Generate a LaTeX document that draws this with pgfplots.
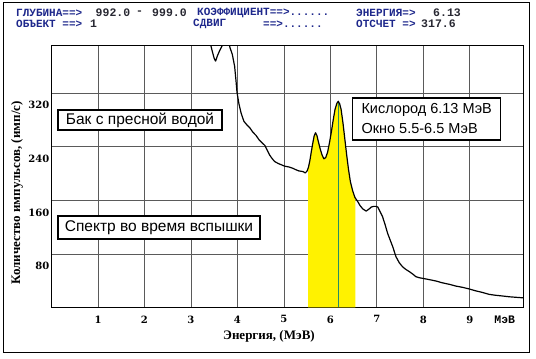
\documentclass[border=0pt]{standalone}
\usepackage{fontspec}
\setmainfont{Liberation Serif}
\setsansfont{Liberation Sans}
\setmonofont{Liberation Mono}
\newfontfamily\tickfont{DejaVu Serif}
\usepackage{pgfplots}
\pgfplotsset{compat=1.18}
\definecolor{hdrblue}{RGB}{30,40,140}
\definecolor{hdrnum}{RGB}{40,40,50}
\definecolor{gridgray}{RGB}{90,90,90}
\definecolor{peakgreen}{RGB}{40,140,100}
\begin{document}
\begin{tikzpicture}[x=1pt,y=1pt]
\fill[white] (0,0) rectangle (536,359);
\draw[black, line width=1pt] (3,6.7) rectangle (529.5,356);
% header
\begin{scope}[every node/.style={anchor=west, inner sep=0pt, font=\ttfamily\bfseries\fontsize{11}{12}\selectfont}]
\node[text=hdrblue] at (16,346.5) {ГЛУБИНА==>};
\node[text=hdrnum, font=\ttfamily\bfseries\fontsize{11.5}{12}\selectfont] at (95.5,346.5) {992.0};
\node[text=hdrnum, font=\ttfamily\bfseries\fontsize{11.5}{12}\selectfont] at (136,346.5) {-};
\node[text=hdrnum, font=\ttfamily\bfseries\fontsize{11.5}{12}\selectfont] at (152,346.5) {999.0};
\node[text=hdrblue] at (197,346.5) {КОЭФФИЦИЕНТ==>......};
\node[text=hdrblue] at (356,346.5) {ЭНЕРГИЯ=>};
\node[text=hdrnum, font=\ttfamily\bfseries\fontsize{11.5}{12}\selectfont] at (433,346.5) {6.13};
\node[text=hdrblue] at (16,335) {ОБЪЕКТ ==>};
\node[text=hdrnum, font=\ttfamily\bfseries\fontsize{11.5}{12}\selectfont] at (90,335) {1};
\node[text=hdrblue] at (193,335) {СДВИГ};
\node[text=hdrblue] at (263,335) {==>......};
\node[text=hdrblue] at (356,335) {ОТСЧЕТ =>};
\node[text=hdrnum, font=\ttfamily\bfseries\fontsize{11.5}{12}\selectfont] at (421,335) {317.6};
\end{scope}
\begin{axis}[
  at={(51.5pt,51.5pt)}, anchor=south west,
  scale only axis, width=471.8pt, height=261.8pt,
  xmin=0, xmax=10.15, ymin=0, ymax=391,
  xtick={1,2,3,4,5,6,7,8,9}, ytick={80,160,240,320},
  grid=major, major grid style={gridgray, line width=0.8pt},
  major tick length=0pt,
  axis line style={line width=1.6pt},
  tick label style={font=\tickfont\bfseries\fontsize{10}{12}\selectfont},
  /pgf/number format/assume math mode=true,
  xticklabel style={inner sep=0pt, yshift=-8pt},
  yticklabel style={inner sep=0pt, xshift=-2pt, yshift=-12pt},
  extra x ticks={9.75}, extra x tick labels={МэВ},
  extra x tick style={grid=none, xticklabel style={font=\ttfamily\bfseries\fontsize{11.5}{12}\selectfont}},
  clip=true,
]
\addplot[fill=yellow, draw=none] coordinates {
(5.52,0) (5.52,207) (5.53,210) (5.56,220) (5.59,233) (5.62,245) (5.65,256) (5.68,261)
(5.71,257) (5.74,248) (5.78,237) (5.82,228) (5.86,222) (5.90,224) (5.94,232) (5.98,246)
(6.02,262) (6.06,280) (6.10,296) (6.14,305) (6.17,308) (6.20,304) (6.23,296) (6.27,276)
(6.31,252) (6.35,228) (6.39,206) (6.43,188) (6.48,174) (6.53,164) (6.54,162) (6.54,0)} \closedcycle;
\addplot[peakgreen, line width=1pt] coordinates {(6.17,0) (6.17,307)};
\addplot[black, line width=1.2pt, line join=round] coordinates {
(3.38,405) (3.45,385) (3.50,372) (3.53,368) (3.57,376) (3.62,384) (3.68,392) (3.72,400)
};
\addplot[black, line width=1.2pt, line join=round] coordinates {
(3.80,400) (3.84,388) (3.89,378) (3.94,360) (3.97,338) (3.99,322) (4.03,305) (4.08,290)
(4.14,278) (4.20,273) (4.27,268) (4.33,262) (4.40,257) (4.47,250) (4.53,246) (4.59,242)
(4.64,235) (4.69,228) (4.74,223) (4.80,218) (4.88,215) (4.95,213) (5.02,211) (5.10,210)
(5.19,208) (5.25,206) (5.32,204) (5.41,203) (5.46,201) (5.50,204) (5.53,210) (5.56,220)
(5.59,233) (5.62,245) (5.65,256) (5.68,261) (5.71,257) (5.74,248) (5.78,237) (5.82,228)
(5.86,222) (5.90,224) (5.94,232) (5.98,246) (6.02,262) (6.06,280) (6.10,296) (6.14,305)
(6.17,308) (6.20,304) (6.23,296) (6.27,276) (6.31,252) (6.35,228) (6.39,206) (6.43,188)
(6.48,174) (6.53,164) (6.59,158) (6.64,152) (6.70,147) (6.77,144) (6.83,147) (6.88,150)
(6.93,151) (6.98,151) (7.02,150) (7.07,143) (7.12,136) (7.18,123) (7.23,111) (7.29,100)
(7.34,91) (7.41,76) (7.48,67) (7.55,61) (7.62,57) (7.70,53.5) (7.77,50) (7.84,46)
(7.91,44.5) (7.98,43.6) (8.10,42) (8.27,39.6) (8.40,37) (8.56,34.6) (8.70,32) (8.85,30)
(8.99,27.6) (9.12,25) (9.27,22.5) (9.41,19.7) (9.55,18.3) (9.70,17.2) (9.85,16) (10.0,15.2) (10.15,14.4)
};
\end{axis}
% axis labels
\node[font=\bfseries\fontsize{13}{15}\selectfont] at (269,22.3) {Энергия, (МэВ)};
\node[font=\bfseries\fontsize{13}{15}\selectfont, rotate=90] at (17,166) {Количество импульсов, (имп/с)};
% annotation boxes
\node[draw, line width=1.2pt, fill=white, inner sep=0pt, minimum width=164pt, minimum height=20pt,
  font=\sffamily\fontsize{15.5}{17}\selectfont] at (140,239) {Бак с пресной водой};
\node[draw, line width=1.2pt, fill=white, inner sep=0pt, minimum width=202pt, minimum height=23pt,
  font=\sffamily\fontsize{15.5}{17}\selectfont] at (159,131.5) {Спектр во время вспышки};
\node[draw, line width=1.2pt, fill=white, inner xsep=4pt, inner ysep=0pt, minimum width=148pt, minimum height=42pt,
  align=left, font=\sffamily\fontsize{14.5}{20}\selectfont] at (426.7,240) {Кислород 6.13 МэВ\\Окно 5.5-6.5 МэВ};
\end{tikzpicture}
\end{document}
